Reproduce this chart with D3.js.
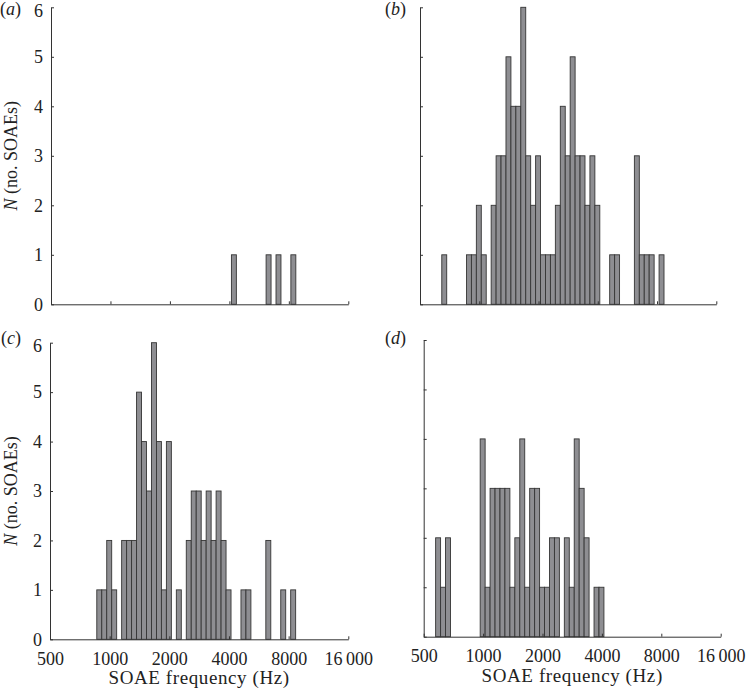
<!DOCTYPE html>
<html>
<head>
<meta charset="utf-8">
<script src="https://cdn.jsdelivr.net/npm/d3@7"></script>
<style>
  body { margin: 0; background: #fff; }
  svg { display: block; font-family: "Liberation Serif", "DejaVu Serif", serif; }
</style>
</head>
<body>
<div class="chart"></div>
<script>
// 1/12-octave bins, bin n spans binBase*2^(n/12) .. binBase*2^((n+1)/12)
const binBase = 512;
const binsPerOctave = 12;

const freqTicks = [500, 1000, 2000, 4000, 8000, 16000];
const freqTickLabels = ["500", "1000", "2000", "4000", "8000", "16\u2009000"];
const countTicks = [0, 1, 2, 3, 4, 5, 6];

// counts per bin, first entry is bin "start"
const startA = 36;
const countsA = [1, 0, 0, 0, 0, 0, 0, 1, 0, 1, 0, 0, 1];

const startB = 4;
const countsB = [1, 0, 0, 0, 0, 1, 1, 2, 1, 0, 2, 3, 3, 5, 4, 4, 6, 3, 2, 3, 1, 1, 1,
  2, 4, 3, 5, 3, 3, 2, 3, 2, 0, 0, 1, 1, 0, 0, 0, 3, 1, 1, 1, 0, 1];

const startC = 9;
const countsC = [1, 1, 2, 1, 0, 2, 2, 2, 5, 4, 3, 6, 4, 1, 4, 0, 1, 0, 2, 3, 3, 2, 3, 2,
  3, 2, 1, 0, 0, 1, 1, 0, 0, 0, 2, 0, 0, 1, 0, 1];

const startD = 2;
const countsD = [2, 1, 2, 0, 0, 0, 0, 0, 0, 4, 1, 3, 3, 3, 3, 1, 2, 4, 1, 3, 3, 1, 1, 2,
  2, 0, 2, 1, 4, 3, 2, 0, 1, 1];

const WIDTH = 746;
const HEIGHT = 691;
const FONT = 18;

const svg = d3.select('.chart')
  .append('svg')
  .attr("width", WIDTH)
  .attr("height", HEIGHT);

const panels = [
  {letter: "a", start: startA, counts: countsA, x0: 51, x1: 348.3, yBase: 304.3, yTop: 7.3,
    xLabels: false, yLabels: true, letterPos: [0, 15]},
  {letter: "b", start: startB, counts: countsB, x0: 420, x1: 716.3, yBase: 304.3, yTop: 7.3,
    xLabels: false, yLabels: false, letterPos: [385, 15]},
  {letter: "c", start: startC, counts: countsC, x0: 50, x1: 348.3, yBase: 639.3, yTop: 342.7,
    xLabels: true, yLabels: true, letterPos: [1, 344]},
  {letter: "d", start: startD, counts: countsD, x0: 423.7, x1: 720.7, yBase: 636.7, yTop: 340,
    xLabels: true, yLabels: false, letterPos: [385, 344]}
];

panels.forEach(p => drawPanel(p));

function binEdge(n) {
  return binBase * Math.pow(2, n / binsPerOctave);
}

function drawPanel(p) {
  const x = d3.scaleLog().base(2)
    .domain([freqTicks[0], freqTicks[freqTicks.length - 1]])
    .range([p.x0, p.x1]);
  const y = d3.scaleLinear()
    .domain([0, 6])
    .range([p.yBase, p.yTop]);

  const g = svg.append("g").attr("class", "panel-" + p.letter);

  const bins = p.counts
    .map((c, i) => ({n: p.start + i, count: c}))
    .filter(d => d.count > 0);

  g.selectAll("rect.bar")
    .data(bins)
    .enter()
    .append("rect")
    .attr("class", "bar")
    .attr("x", d => x(binEdge(d.n)))
    .attr("y", d => y(d.count))
    .attr("width", d => x(binEdge(d.n + 1)) - x(binEdge(d.n)))
    .attr("height", d => y(0) - y(d.count))
    .attr("fill", "#8e8e92")
    .attr("stroke", "#353535")
    .attr("stroke-width", 0.9);

  const xAxis = d3.axisBottom(x)
    .tickValues(freqTicks)
    .tickSizeInner(-3)
    .tickSizeOuter(0)
    .tickPadding(13)
    .tickFormat((d, i) => p.xLabels ? freqTickLabels[i] : "");

  const xg = g.append("g")
    .attr("transform", `translate(0,${p.yBase})`)
    .call(xAxis);

  const yAxis = d3.axisLeft(y)
    .tickValues(countTicks)
    .tickSizeInner(-3)
    .tickSizeOuter(0)
    .tickPadding(8)
    .tickFormat(d => p.yLabels ? d : "");

  const yg = g.append("g")
    .attr("transform", `translate(${p.x0},0)`)
    .call(yAxis);

  [xg, yg].forEach(ax => {
    ax.select(".domain").attr("stroke", "#333").attr("stroke-width", 1);
    ax.selectAll(".tick line").attr("stroke", "#333");
    ax.selectAll("text")
      .attr("font-family", "Liberation Serif, serif")
      .attr("font-size", FONT)
      .attr("fill", "#222");
  });

  // top label sits a little lower so it is not clipped
  yg.selectAll(".tick text")
    .filter(d => d === 6)
    .attr("dy", "0.5em");

  // panel letter
  const lt = g.append("text")
    .attr("x", p.letterPos[0])
    .attr("y", p.letterPos[1])
    .attr("font-size", FONT)
    .attr("fill", "#222");
  lt.append("tspan").text("(");
  lt.append("tspan").attr("font-style", "italic").text(p.letter);
  lt.append("tspan").text(")");

  if (p.yLabels) {
    const cy = (p.yBase + p.yTop) / 2;
    const yl = g.append("text")
      .attr("transform", `translate(17,${cy}) rotate(-90)`)
      .attr("text-anchor", "middle")
      .attr("font-size", FONT)
      .attr("fill", "#222");
    yl.append("tspan").attr("font-style", "italic").text("N");
    yl.append("tspan").text(" (no. SOAEs)");
  }

  if (p.xLabels) {
    g.append("text")
      .attr("x", (p.x0 + p.x1) / 2)
      .attr("y", p.yBase + 45)
      .attr("text-anchor", "middle")
      .attr("font-size", 19)
      .attr("letter-spacing", 0.6)
      .attr("fill", "#222")
      .text("SOAE frequency (Hz)");
  }
}
</script>
</body>
</html>
